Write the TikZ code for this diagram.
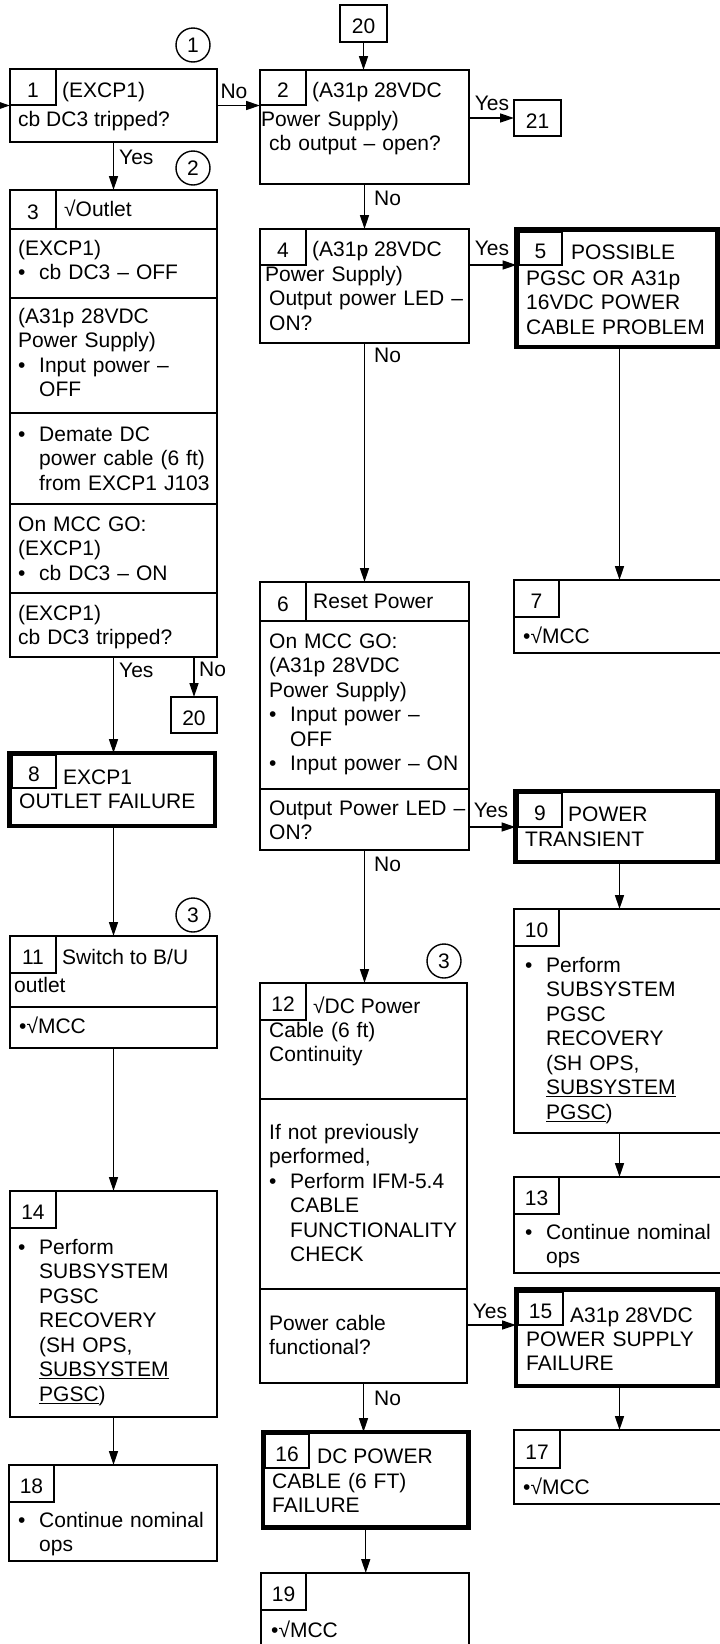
\documentclass[tikz,border=0pt]{standalone}
\usepackage{fontspec}
\setmainfont{Liberation Sans}
\usetikzlibrary{arrows.meta}
\newcommand{\fs}{\fontsize{21}{24.5}\selectfont}
\newcommand{\bul}{\makebox[21pt][l]{•}}
\newcommand{\ind}{\hspace*{21pt}}

\begin{document}
\begin{tikzpicture}[x=1pt, y=-1pt, >={Triangle[length=14pt,width=9pt]},
    box/.style={draw, line width=1.8pt, anchor=north west, outer sep=0pt, inner sep=0pt},
    heavy/.style={box, line width=4.5pt},
    cell/.style={draw, line width=1.4pt, anchor=north west, outer sep=0pt, inner sep=0pt,
      font=\fs, text height=20pt, text depth=0pt},
    hd/.style={anchor=base west, inner sep=0pt, font=\fs},
    txt/.style={anchor=north west, inner sep=0pt, yshift=17.15pt, align=left,
      text width=230pt, font=\fs},
    lbl/.style={inner sep=0pt, font=\fs},
    ring/.style={circle, draw, line width=1.4pt, minimum size=34pt, inner sep=0pt, font=\fs},
    link/.style={->, line width=1.4pt},
    rule/.style={line width=1.8pt}]
    \useasboundingbox (0,0) rectangle (720,1644);
    \clip (0,0) rectangle (720,1644);

    % Boxes
    \node[box, minimum width=207pt, minimum height=73pt] (b1) at (10,69) {};
    \node[box, minimum width=209pt, minimum height=114pt] (b2) at (260,70) {};
    \node[box, minimum width=207pt, minimum height=467pt] (b3) at (10,190) {};
    \node[box, minimum width=209pt, minimum height=114pt] (b4) at (260,229) {};
    \node[heavy, minimum width=201pt, minimum height=117.5pt] (b5) at (516.5,229.5) {};
    \node[box, minimum width=209pt, minimum height=268pt] (b6) at (260,582) {};
    \node[box, minimum width=211pt, minimum height=73pt] (b7) at (514,580) {};
    \node[heavy, minimum width=205.5pt, minimum height=73pt] (b8) at (9.5,753) {};
    \node[heavy, minimum width=202pt, minimum height=71pt] (b9) at (515.5,791) {};
    \node[box, minimum width=211pt, minimum height=224pt] (b10) at (514,909) {};
    \node[box, minimum width=207pt, minimum height=112pt] (b11) at (10,936) {};
    \node[box, minimum width=207pt, minimum height=400pt] (b12) at (260,983) {};
    \node[box, minimum width=211pt, minimum height=96pt] (b13) at (514,1177) {};
    \node[box, minimum width=207pt, minimum height=226pt] (b14) at (10,1191) {};
    \node[heavy, minimum width=201.5pt, minimum height=96.5pt] (b15) at (516,1289.5) {};
    \node[heavy, minimum width=205.5pt, minimum height=95.5pt] (b16) at (263,1432) {};
    \node[box, minimum width=211pt, minimum height=74pt] (b17) at (514,1430) {};
    \node[box, minimum width=208pt, minimum height=96pt] (b18) at (9,1465) {};
    \node[box, minimum width=208pt, minimum height=100pt] (b19) at (261,1573) {};

    % Off-page connectors
    \node[cell, minimum width=47pt, minimum height=37pt] (c20b) at (340,5) {20};
    \node[cell, minimum width=46pt, minimum height=36pt] (c20a) at (171,697) {20};
    \node[cell, minimum width=47pt, minimum height=36pt] (c21) at (514,100) {21};

    % Step numbers
    \node[cell, minimum width=46pt, minimum height=36pt] (n1) at (10,69) {1};
    \node[cell, minimum width=46pt, minimum height=35pt] (n2) at (260,70) {2};
    \node[cell, minimum width=46pt, minimum height=39pt] (n3) at (10,190) {3};
    \node[cell, minimum width=46pt, minimum height=36pt] (n4) at (260,229) {4};
    \node[cell, minimum width=43pt, minimum height=33pt] (n5) at (519,232) {5};
    \node[cell, minimum width=46pt, minimum height=39pt] (n6) at (260,582) {6};
    \node[cell, minimum width=45pt, minimum height=37pt] (n7) at (514,580) {7};
    \node[cell, minimum width=44pt, minimum height=33pt] (n8) at (12,755) {8};
    \node[cell, minimum width=44pt, minimum height=34pt] (n9) at (518,793) {9};
    \node[cell, minimum width=45pt, minimum height=37pt] (n10) at (514,909) {10};
    \node[cell, minimum width=46pt, minimum height=37pt] (n11) at (10,936) {11};
    \node[cell, minimum width=46pt, minimum height=37pt] (n12) at (260,983) {12};
    \node[cell, minimum width=45pt, minimum height=37pt] (n13) at (514,1177) {13};
    \node[cell, minimum width=46pt, minimum height=37pt] (n14) at (10,1191) {14};
    \node[cell, minimum width=45pt, minimum height=33pt] (n15) at (518,1292) {15};
    \node[cell, minimum width=44pt, minimum height=34pt] (n16) at (265,1434) {16};
    \node[cell, minimum width=46pt, minimum height=38pt] (n17) at (514,1430) {17};
    \node[cell, minimum width=45pt, minimum height=37pt] (n18) at (9,1465) {18};
    \node[cell, minimum width=45pt, minimum height=37pt] (n19) at (261,1573) {19};

    % Dividers
    \foreach \y in {229,298,413,504,593} \draw[rule] (10,\y) -- (217,\y);
    \foreach \y in {621,789} \draw[rule] (260,\y) -- (469,\y);
    \draw[rule] (10,1007) -- (217,1007);
    \foreach \y in {1099,1289} \draw[rule] (260,\y) -- (467,\y);

    % Circled references
    \node[ring] (r1) at (193,45) {1};
    \node[ring] (r2) at (193,168) {2};
    \node[ring] (r3) at (193,915) {3};
    \node[ring] (r4) at (444,961) {3};

    % Texts, left column
    \node[hd] (h1) at (62,97) {(EXCP1)};
    \node[hd] (s1) at (18,126) {cb DC3 tripped?};
    \node[hd] (h3) at (64,216) {√Outlet};
    \node[txt] (s3a) at (18,255) {\strut(EXCP1)\\\bul cb DC3 – OFF};
    \node[txt] (s3b) at (18,323) {\strut(A31p 28VDC\\Power Supply)\\\bul Input power –\\\ind OFF};
    \node[txt] (s3c) at (18,441) {\strut\bul Demate DC\\\ind power cable (6 ft)\\\ind from EXCP1 J103};
    \node[txt] (s3d) at (18,531) {\strut On MCC GO:\\(EXCP1)\\\bul cb DC3 – ON};
    \node[txt] (s3e) at (18,620) {\strut(EXCP1)\\cb DC3 tripped?};
    \node[hd] (h8) at (63,784) {EXCP1};
    \node[hd] (s8) at (19,808) {OUTLET FAILURE};
    \node[hd] (h11) at (62,964) {Switch to B/U};
    \node[hd] (s11a) at (14,992) {outlet};
    \node[hd] (s11b) at (19,1033) {•√MCC};
    \node[txt] (s14) at (18,1254) {\strut\bul Perform\\\ind SUBSYSTEM\\\ind PGSC\\\ind RECOVERY\\\ind (SH OPS,\\\ind \underline{SUBSYSTEM}\\\ind \underline{PGSC})};
    \node[txt] (s18) at (18,1527) {\strut\bul Continue nominal\\\ind ops};

    % Texts, middle column
    \node[hd] (h2) at (312,97) {(A31p 28VDC};
    \node[txt] (s2) at (261,126) {\strut Power Supply)\\\hspace*{8pt}cb output – open?};
    \node[hd] (h4) at (312,256) {(A31p 28VDC};
    \node[txt] (s4) at (265,281) {\strut Power Supply)\\\hspace*{4pt}Output power LED –\\\hspace*{4pt}ON?};
    \node[hd] (h6) at (313,608) {Reset Power};
    \node[txt] (s6a) at (269,648) {\strut On MCC GO:\\(A31p 28VDC\\Power Supply)\\\bul Input power –\\\ind OFF\\\bul Input power – ON};
    \node[txt] (s6b) at (269,815) {\strut Output Power LED –\\ON?};
    \node[hd] (h12) at (313,1013) {√DC Power};
    \node[txt] (s12a) at (269,1037) {\strut Cable (6 ft)\\Continuity};
    \node[txt] (s12b) at (269,1139) {\strut If not previously\\performed,\\\bul Perform IFM-5.4\\\ind CABLE\\\ind FUNCTIONALITY\\\ind CHECK};
    \node[txt] (s12c) at (269,1330) {\strut Power cable\\functional?};
    \node[hd] (h16) at (317,1463) {DC POWER};
    \node[txt] (s16) at (272,1488) {\strut CABLE (6 FT)\\FAILURE};
    \node[hd] (s19) at (271,1637) {•√MCC};

    % Texts, right column
    \node[hd] (h5) at (571,259) {POSSIBLE};
    \node[txt] (s5) at (526,285) {\strut PGSC OR A31p\\16VDC POWER\\CABLE PROBLEM};
    \node[hd] (s7) at (523,643) {•√MCC};
    \node[hd] (h9) at (568,821) {POWER};
    \node[hd] (s9) at (525,846) {TRANSIENT};
    \node[txt] (s10) at (525,972) {\strut\bul Perform\\\ind SUBSYSTEM\\\ind PGSC\\\ind RECOVERY\\\ind (SH OPS,\\\ind \underline{SUBSYSTEM}\\\ind \underline{PGSC})};
    \node[txt] (s13) at (525,1239) {\strut\bul Continue nominal\\\ind ops};
    \node[hd] (h15) at (570,1322) {A31p 28VDC};
    \node[txt] (s15) at (526,1346) {\strut POWER SUPPLY\\FAILURE};
    \node[hd] (s17) at (523,1494) {•√MCC};

    % Connectors
    \coordinate (entry) at (-20,105.5);
    \draw[link] (entry) -- (b1.west);
    \draw[link] (b1.east) -- (b1.east -| b2.west);
    \draw[link] (b1.south) -- (b3.north);
    \draw[link] (c20b.south) -- (c20b.south |- b2.north);
    \draw[link] (c21.west -| b2.east) -- (c21.west);
    \draw[link] (b2.south) -- (b4.north);
    \draw[link] (b4.east |- n5.south) -- (n5.south -| b5.west);
    \draw[link] (b4.south) -- (b6.north);
    \draw[link] (b5.south -| b7.north) -- (b7.north);
    \draw[link] (b3.south) -- (b3.south |- b8.north);
    \draw[link] (c20a.north |- b3.south) -- (c20a.north);
    \draw[link] (b6.east |- n9.south) -- (n9.south -| b9.west);
    \draw[link] (b6.south) -- (b6.south |- b12.north);
    \draw[link] (b9.south -| b10.north) -- (b10.north);
    \draw[link] (b8.south -| b11.north) -- (b11.north);
    \draw[link] (b10.south) -- (b13.north);
    \draw[link] (b11.south) -- (b14.north);
    \draw[link] (b12.east |- n15.south) -- (n15.south -| b15.west);
    \draw[link] (b15.south -| b17.north) -- (b17.north);
    \draw[link] (b12.south) -- (b12.south |- b16.north);
    \draw[link] (b14.south) -- (b14.south |- b18.north);
    \draw[link] (b16.south) -- (b16.south |- b19.north);

    % Labels
    \node[lbl] (l1) at (234,91) {No};
    \node[lbl, anchor=west] (l2) at (119,157) {Yes};
    \node[lbl] (l3) at (492,103) {Yes};
    \node[lbl, anchor=west] (l4) at (374,198) {No};
    \node[lbl] (l5) at (492,248) {Yes};
    \node[lbl, anchor=west] (l6) at (374,355) {No};
    \node[lbl, anchor=west] (l7) at (119,670) {Yes};
    \node[lbl, anchor=west] (l8) at (199,669) {No};
    \node[lbl] (l9) at (491,810) {Yes};
    \node[lbl, anchor=west] (l10) at (374,864) {No};
    \node[lbl] (l11) at (490,1311) {Yes};
    \node[lbl, anchor=west] (l12) at (374,1398) {No};
\end{tikzpicture}
\end{document}
